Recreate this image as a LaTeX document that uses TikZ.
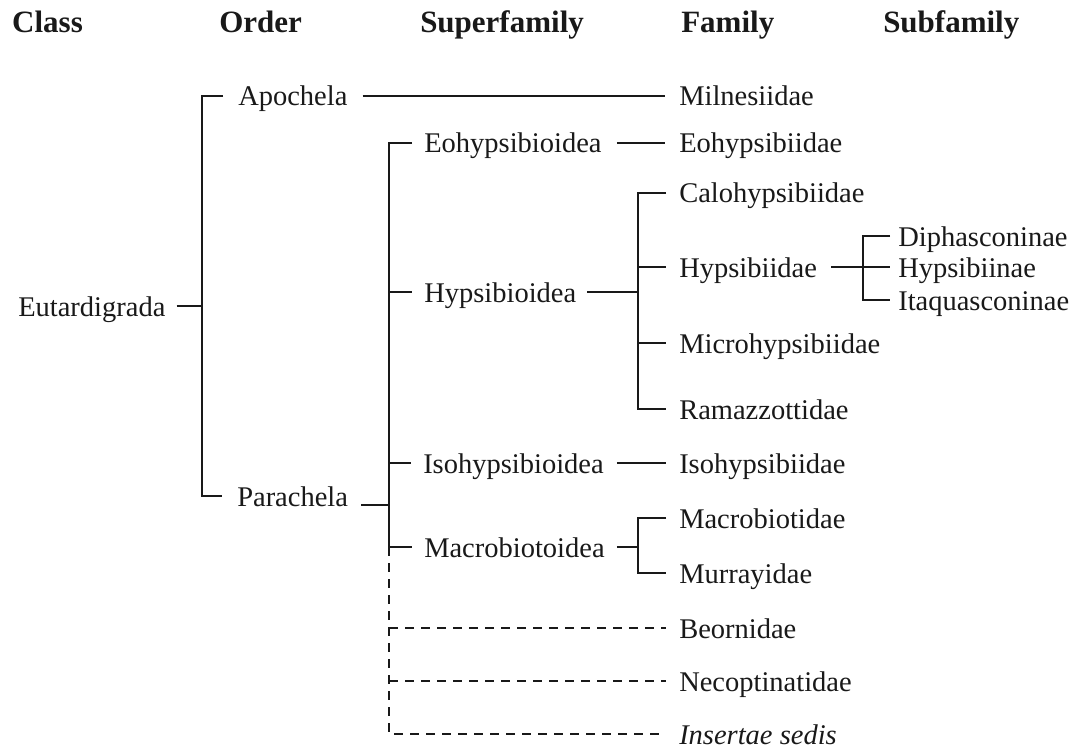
\documentclass[tikz,border=0pt]{standalone}
\usepackage{fontspec}
\setmainfont{Liberation Serif}
\definecolor{ink}{gray}{0.1}
\begin{document}
\begin{tikzpicture}[x=1pt,y=-1pt, line width=2.5pt, draw=ink, text=ink,
  tx/.style={anchor=west, inner sep=0pt, font=\fontsize{28.5}{34}\selectfont, text height=20pt, text depth=0pt},
  hd/.style={anchor=base west, inner sep=0pt, font=\fontsize{31}{36}\selectfont\bfseries},
  dsh/.style={dash pattern=on 9pt off 7pt}]
\useasboundingbox (0,0) rectangle (1082,749);
% headers
\node[hd] (hcls) at (11,33) {Class};
\node[hd] (hord) at (218,33) {Order};
\node[hd] (hsup) at (419,33) {Superfamily};
\node[hd] (hfam) at (680,33) {Family};
\node[hd] (hsub) at (882,33) {Subfamily};
% class / order
\node[tx] (eut) at (17,306) {Eutardigrada};
\node[tx] (apo) at (237,96) {Apochela};
\node[tx] (para) at (236,496) {Parachela};
% superfamilies
\node[tx] (eohs) at (423,143) {Eohypsibioidea};
\node[tx] (hyps) at (423,292) {Hypsibioidea};
\node[tx] (isos) at (422,463) {Isohypsibioidea};
\node[tx] (macs) at (423,547) {Macrobiotoidea};
% families
\node[tx] (mil) at (678,96) {Milnesiidae};
\node[tx] (eohf) at (678,143) {Eohypsibiidae};
\node[tx] (calo) at (678,193) {Calohypsibiidae};
\node[tx] (hypf) at (678,267) {Hypsibiidae};
\node[tx] (micro) at (678,343) {Microhypsibiidae};
\node[tx] (ram) at (678,409) {Ramazzottidae};
\node[tx] (isof) at (678,463) {Isohypsibiidae};
\node[tx] (macf) at (678,518) {Macrobiotidae};
\node[tx] (mur) at (678,573) {Murrayidae};
\node[tx] (beo) at (678,628) {Beornidae};
\node[tx] (nec) at (678,681) {Necoptinatidae};
\node[tx] (ins) at (678,734) {\itshape Insertae sedis};
% subfamilies
\node[tx] (diph) at (897,236) {Diphasconinae};
\node[tx] (hyin) at (897,267) {Hypsibiinae};
\node[tx] (itaq) at (897,300) {Itaquasconinae};
% junctions
\coordinate (oJ) at (202,306);
\coordinate (sJ) at (389,505);
\coordinate (hJ) at (638,292);
\coordinate (mJ) at (638,547);
\coordinate (sfJ) at (863,267);
% connectors
\draw ([xshift=10pt]eut.east) -- (oJ);
\draw ([xshift=-14pt]apo.west) -| (oJ) |- ([xshift=-14pt]para.west);
\draw ([xshift=14pt]apo.east) -- ([xshift=-13pt]mil.west);
\draw ([xshift=12pt,yshift=-9pt]para.east) -- (sJ);
\draw ([xshift=-11pt]eohs.west) -| (sJ) |- ([xshift=-11pt]macs.west);
\draw (hyps.west -| sJ) -- ([xshift=-11pt]hyps.west);
\draw (isos.west -| sJ) -- ([xshift=-11pt]isos.west);
\draw[dsh] (macs.west -| sJ) |- ([xshift=-12pt]ins.west);
\draw[dsh] (beo.west -| sJ) -- ([xshift=-12pt]beo.west);
\draw[dsh] (nec.west -| sJ) -- ([xshift=-12pt]nec.west);
\draw ([xshift=14pt]eohs.east) -- ([xshift=-13pt]eohf.west);
\draw ([xshift=10pt]hyps.east) -- (hJ);
\draw ([xshift=-12pt]calo.west) -| (hJ) |- ([xshift=-12pt]ram.west);
\draw (hypf.west -| hJ) -- ([xshift=-12pt]hypf.west);
\draw (micro.west -| hJ) -- ([xshift=-12pt]micro.west);
\draw ([xshift=13pt]hypf.east) -- ([xshift=-7pt]hyin.west);
\draw ([xshift=-7pt]diph.west) -| (sfJ) |- ([xshift=-7pt]itaq.west);
\draw ([xshift=12pt]isos.east) -- ([xshift=-12pt]isof.west);
\draw ([xshift=11pt]macs.east) -- (mJ);
\draw ([xshift=-12pt]macf.west) -| (mJ) |- ([xshift=-12pt]mur.west);
\end{tikzpicture}
\end{document}
